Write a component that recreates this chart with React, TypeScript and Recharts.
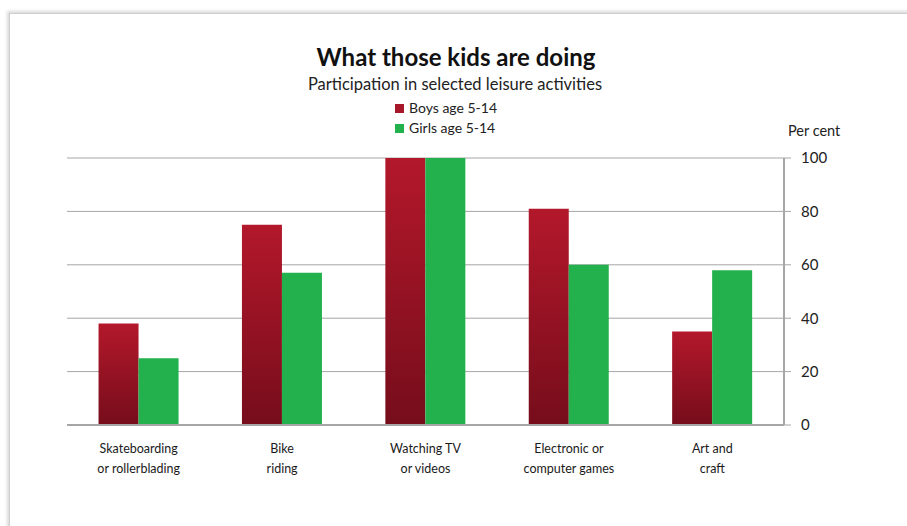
import React from "react";
import { BarChart, Bar, XAxis, YAxis, CartesianGrid } from "recharts";

const categories = [
  "Skateboarding\nor rollerblading",
  "Bike\nriding",
  "Watching TV\nor videos",
  "Electronic or\ncomputer games",
  "Art and\ncraft",
];
const boys = [38, 75, 100, 81, 35];
const girls = [25, 57, 100, 60, 58];
const yTicks = [0, 20, 40, 60, 80, 100];
const seriesNames = ["Boys age 5-14", "Girls age 5-14"];
const seriesColors = ["#a8172a", "#22b14c"];

const data = categories.map((c, i) => ({ name: c, boys: boys[i], girls: girls[i] }));

const FONT = "Lato, 'Open Sans', sans-serif";

const XTick = (props: any) => {
  const { x, y, payload } = props;
  const lines = String(payload.value).split("\n");
  return (
    <g transform={`translate(${x},${y})`}>
      {lines.map((l, i) => (
        <text key={i} x={0} y={20 + i * 20} textAnchor="middle" fontSize={12.5} fill="#1a1a1a" fontFamily={FONT}>
          {l}
        </text>
      ))}
    </g>
  );
};

export default function App() {
  return (
    <div style={{ position: "absolute", left: 0, top: 0, width: 907, height: 526, overflow: "hidden", background: "#fff" }}>
      <div
        style={{
          position: "absolute",
          left: 9,
          top: 13,
          width: 960,
          height: 600,
          background: "#fff",
          borderLeft: "1px solid #cfcfcf",
          borderTop: "1px solid #cfcfcf",
          boxShadow: "-2px -2px 3px rgba(0,0,0,0.15)",
        }}
      />
      <div
        style={{
          position: "absolute",
          left: 0,
          top: 42,
          width: 912,
          textAlign: "center",
          fontFamily: FONT,
          fontWeight: 700,
          fontSize: 24,
          color: "#111",
        }}
      >
        What those kids are doing
      </div>
      <div
        style={{
          position: "absolute",
          left: 0,
          top: 74,
          width: 910,
          textAlign: "center",
          fontFamily: FONT,
          fontSize: 16.5,
          color: "#222",
        }}
      >
        Participation in selected leisure activities
      </div>
      <div
        style={{
          position: "absolute",
          left: 395,
          top: 98,
          fontFamily: FONT,
          fontSize: 14,
          color: "#222",
          lineHeight: "20px",
        }}
      >
        {seriesNames.map((n, i) => (
          <div key={n} style={{ display: "flex", alignItems: "center" }}>
            <span
              style={{
                display: "inline-block",
                width: 9,
                height: 9,
                background: seriesColors[i],
                marginRight: 5,
              }}
            />
            {n}
          </div>
        ))}
      </div>
      <div
        style={{
          position: "absolute",
          left: 788,
          top: 122,
          fontFamily: FONT,
          fontSize: 14.5,
          color: "#222",
        }}
      >
        Per cent
      </div>
      <div style={{ position: "absolute", left: 0, top: 0 }}>
        <BarChart
          width={907}
          height={526}
          data={data}
          margin={{ top: 158, right: 63, bottom: 0, left: 67 }}
          barCategoryGap="22%"
          barGap={0}
        >
          <defs>
            <linearGradient id="boysGrad" x1="0" y1="0" x2="0" y2="1">
              <stop offset="0%" stopColor="#b3182b" />
              <stop offset="100%" stopColor="#760d1b" />
            </linearGradient>
          </defs>
          <CartesianGrid horizontal vertical={false} stroke="#a6a6a6" strokeWidth={1} />
          <XAxis
            dataKey="name"
            interval={0}
            tick={<XTick />}
            tickLine={false}
            axisLine={{ stroke: "#a6a6a6", strokeWidth: 2 }}
            height={101}
          />
          <YAxis
            orientation="right"
            domain={[0, 100]}
            ticks={yTicks}
            axisLine={{ stroke: "#a6a6a6", strokeWidth: 2 }}
            tickLine={{ stroke: "#a6a6a6" }}
            tickSize={7}
            tickMargin={10}
            width={60}
            tick={{ fontSize: 15, fill: "#222", fontFamily: FONT }}
          />
          <Bar dataKey="boys" name={seriesNames[0]} fill="url(#boysGrad)" isAnimationActive={false} />
          <Bar dataKey="girls" name={seriesNames[1]} fill={seriesColors[1]} isAnimationActive={false} />
        </BarChart>
      </div>
    </div>
  );
}
